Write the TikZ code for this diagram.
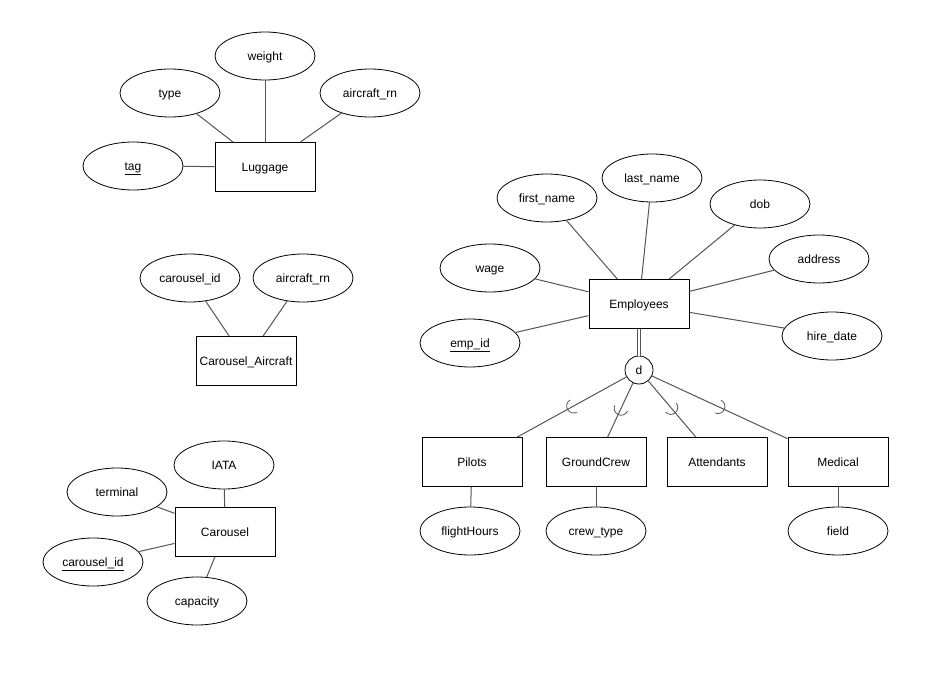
\documentclass[tikz,border=0pt]{standalone}
\usepackage{fontspec}
\setmainfont{Liberation Sans}
\usetikzlibrary{shapes.geometric,decorations.markings}
\definecolor{linegray}{RGB}{85,85,85}
\begin{document}
\begin{tikzpicture}[x=1pt,y=-1pt,
  every node/.style={font=\fontsize{12}{14}\selectfont, text height=11pt, text depth=2pt},
  ent/.style={draw=black, line width=1pt, minimum width=100pt, minimum height=49pt, inner sep=0pt},
  attr/.style={draw=black, ellipse, line width=0.8pt, minimum width=100pt, minimum height=48pt, inner sep=0pt},
  conn/.style={draw=linegray, line width=1pt},
  subsetmark/.style={postaction={decorate, decoration={markings, mark=at position 0.5 with {\draw[line width=0.8pt, linegray] (-2pt,7pt) arc[start angle=90,end angle=-90,radius=7pt];}}}}
]
\useasboundingbox (0,0) rectangle (930,682);
% Luggage
\node[ent] (lug) at (265,167) {Luggage};
\node[attr] (tag) at (133,166) {\underline{tag}};
\node[attr] (type) at (170,93) {type};
\node[attr] (weight) at (265,56) {weight};
\node[attr] (lugrn) at (370,93) {aircraft\_rn};
\draw[conn] (tag) -- (lug);
\draw[conn] (type) -- (lug);
\draw[conn] (weight) -- (lug);
\draw[conn] (lugrn) -- (lug);
% Carousel_Aircraft
\node[ent] (ca) at (246,361) {Carousel\_Aircraft};
\node[attr] (cacid) at (190,278) {carousel\_id};
\node[attr] (carn) at (303,278) {aircraft\_rn};
\draw[conn] (cacid) -- (ca);
\draw[conn] (carn) -- (ca);
% Carousel
\node[ent] (car) at (225,532) {Carousel};
\node[attr] (iata) at (224,465) {IATA};
\node[attr] (term) at (117,492) {terminal};
\node[attr] (cid) at (93,562) {\underline{carousel\_id}};
\node[attr] (cap) at (197,601) {capacity};
\draw[conn] (iata) -- (car);
\draw[conn] (term) -- (car);
\draw[conn] (cid) -- (car);
\draw[conn] (cap) -- (car);
% Employees
\node[ent] (emp) at (639,304) {Employees};
\node[attr] (fn) at (547,198) {first\_name};
\node[attr] (ln) at (652,178) {last\_name};
\node[attr] (dob) at (760,204) {dob};
\node[attr] (wage) at (490,268) {wage};
\node[attr] (addr) at (819,259) {address};
\node[attr] (eid) at (470,343) {\underline{emp\_id}};
\node[attr] (hd) at (832,336) {hire\_date};
\foreach \a in {fn,ln,dob,wage,addr,eid,hd} \draw[conn] (\a) -- (emp);
% specialization
\node[draw=black, circle, line width=0.8pt, minimum size=28pt, inner sep=0pt] (d) at (639,370) {d};
\draw[linegray, line width=0.8pt, double=white, double distance=2.2pt] (emp) -- (d);
\node[ent] (pil) at (472,462) {Pilots};
\node[ent] (gc) at (596,462) {GroundCrew};
\node[ent] (att) at (717,462) {Attendants};
\node[ent] (med) at (838,462) {Medical};
\foreach \s in {pil,gc,att,med} \draw[conn, subsetmark] (d) -- (\s);
\node[attr] (fh) at (470,531) {flightHours};
\node[attr] (ct) at (596,531) {crew\_type};
\node[attr] (fld) at (838,531) {field};
\draw[conn] (fh) -- (pil);
\draw[conn] (ct) -- (gc);
\draw[conn] (fld) -- (med);
\end{tikzpicture}
\end{document}
